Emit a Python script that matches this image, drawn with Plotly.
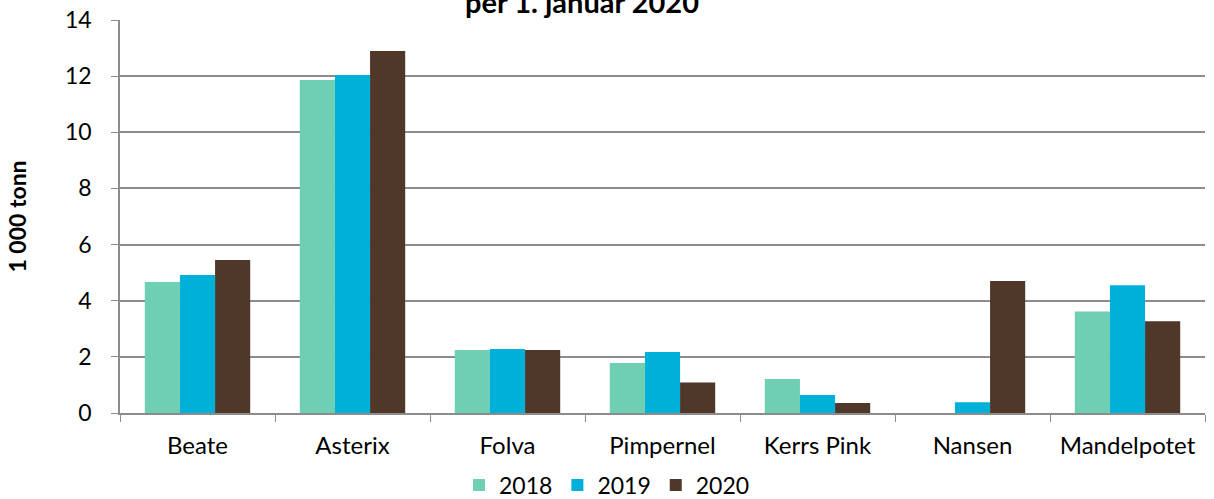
import plotly.graph_objects as go

categories = ["Beate", "Asterix", "Folva", "Pimpernel", "Kerrs Pink", "Nansen", "Mandelpotet"]
years = ["2018", "2019", "2020"]
v2018 = [4.67, 11.86, 2.24, 1.78, 1.21, 0.0, 3.62]
v2019 = [4.92, 12.04, 2.28, 2.17, 0.64, 0.38, 4.55]
v2020 = [5.45, 12.90, 2.24, 1.09, 0.36, 4.70, 3.27]
colors = ["#6fcfb3", "#00b0d8", "#4f372a"]

FONT = "Lato, 'Open Sans', sans-serif"

fig = go.Figure()
for name, vals, col in zip(years, [v2018, v2019, v2020], colors):
    fig.add_trace(go.Bar(x=categories, y=vals, name=name, marker_color=col,
                         marker_line_width=0))

fig.update_layout(
    width=1214, height=499,
    margin=dict(l=120, r=9, t=20, b=86, autoexpand=False),
    plot_bgcolor="white", paper_bgcolor="white",
    font=dict(family=FONT, size=23, color="black"),
    barmode="group", bargap=0.32, bargroupgap=0,
    showlegend=True,
    legend=dict(orientation="h", xref="container", yref="paper",
                x=0.5, xanchor="center", y=(413 - 485) / 393, yanchor="middle",
                font=dict(size=23), itemwidth=30, traceorder="normal"),
    xaxis=dict(showline=True, linecolor="#8c8c8c", linewidth=1.5,
               ticks="outside", tickson="boundaries", ticklen=7, tickcolor="#8c8c8c",
               tickfont=dict(size=24), showgrid=False, automargin=False,
               ticklabelstandoff=10),
    yaxis=dict(range=[0, 14], dtick=2, showline=True, linecolor="#8c8c8c", linewidth=1.5,
               ticks="outside", ticklen=7, tickcolor="#8c8c8c",
               showgrid=True, gridcolor="#8c8c8c", gridwidth=1.5,
               tickfont=dict(size=23), zeroline=False, automargin=False,
               ticklabelstandoff=15,
               title=dict(text="<b>1 000 tonn</b>", font=dict(size=23), standoff=32)),
)
fig.add_annotation(text="<b>per 1. januar 2020</b>", xref="paper", yref="paper",
                   x=(582 - 120) / (1214 - 129), y=1 + 18 / 393, xanchor="center",
                   yanchor="middle", showarrow=False, font=dict(size=29))

fig.write_html("out.html", post_script="document.body.style.margin='0';",
               config={"displayModeBar": False})
